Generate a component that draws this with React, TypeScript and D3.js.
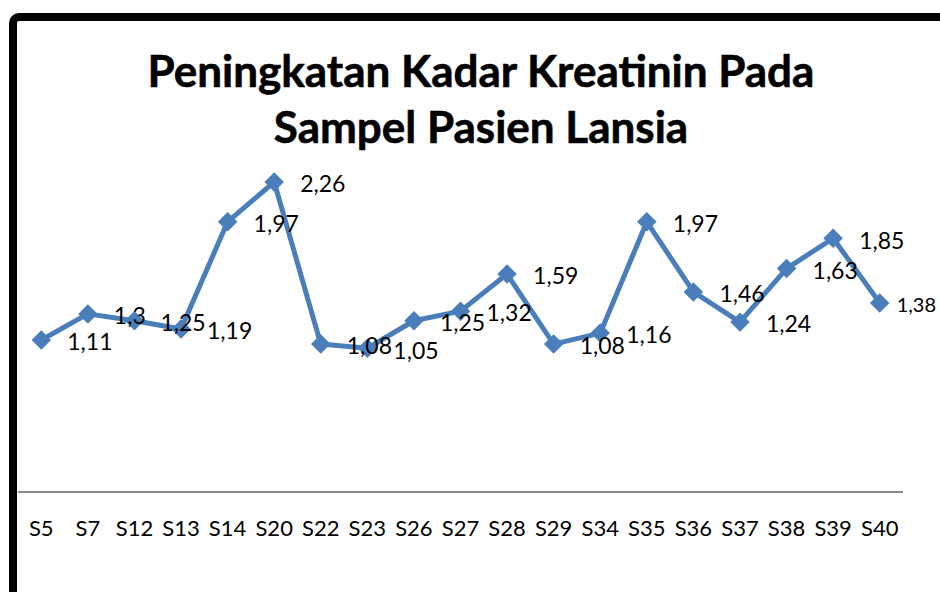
import * as d3 from 'd3'

const categories = ['S5', 'S7', 'S12', 'S13', 'S14', 'S20', 'S22', 'S23', 'S26', 'S27', 'S28', 'S29', 'S34', 'S35', 'S36', 'S37', 'S38', 'S39', 'S40']
const values = [1.11, 1.3, 1.25, 1.19, 1.97, 2.26, 1.08, 1.05, 1.25, 1.32, 1.59, 1.08, 1.16, 1.97, 1.46, 1.24, 1.63, 1.85, 1.38]
const titleLines = ['Peningkatan Kadar Kreatinin Pada', 'Sampel Pasien Lansia']

const W = 940
const H = 592
const font = 'Lato, "Open Sans", sans-serif'
const blue = '#4a7ebb'

export default function App() {
  const x = d3.scalePoint<string>().domain(categories).range([18, 903]).padding(0.5)
  const y = d3.scaleLinear().domain([0, 2.5]).range([492.5, 149])

  const line = d3
    .line<number>()
    .x((_, i) => x(categories[i]) ?? 0)
    .y(d => y(d))

  const diamond = d3.symbol(d3.symbolSquare, 190)() ?? ''
  const last = values.length - 1

  return (
    <svg width={W} height={H} style={{ position: 'absolute', left: 0, top: 0 }}>
      <rect width={W} height={H} fill="#fff" />
      {/* frame */}
      <rect x={13} y={17} width={W + 40} height={H + 40} rx={6} fill="none" stroke="#000" strokeWidth={8} />

      {/* title */}
      {titleLines.map((t, i) => (
        <text
          key={t}
          x={481}
          y={87 + i * 56}
          textAnchor="middle"
          fontFamily={font}
          fontWeight="bold"
          fontSize={44}
          fill="#000"
          stroke="#000"
          strokeWidth={0.6}
        >
          {t}
        </text>
      ))}

      {/* category axis */}
      <line x1={18} x2={903} y1={492} y2={492} stroke="#898989" strokeWidth={2} />
      {categories.map(c => (
        <text key={c} x={x(c)} y={536} textAnchor="middle" fontFamily={font} fontSize={22} fill="#000">
          {c}
        </text>
      ))}

      {/* series */}
      <path d={line(values) ?? ''} fill="none" stroke={blue} strokeWidth={5} strokeLinejoin="round" />
      {values.map((v, i) => (
        <path
          key={i}
          d={diamond}
          transform={`translate(${x(categories[i])},${y(v)}) rotate(45)`}
          fill={blue}
        />
      ))}
      {values.map((v, i) => (
        <text
          key={'l' + i}
          x={(x(categories[i]) ?? 0) + (i === last ? 17 : 26)}
          y={y(v) + 2}
          dy="0.36em"
          fontFamily={font}
          fontSize={i === last ? 20 : 23}
          fill="#000"
        >
          {String(v).replace('.', ',')}
        </text>
      ))}
    </svg>
  )
}
